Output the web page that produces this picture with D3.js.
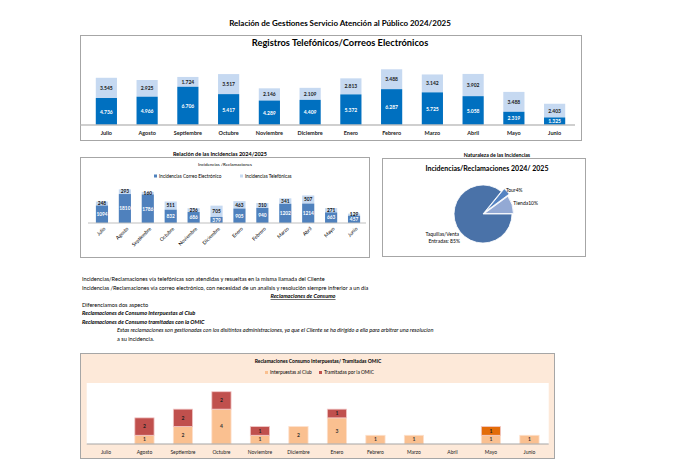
<!DOCTYPE html>
<html>
<head>
<meta charset="utf-8">
<script src="https://cdn.jsdelivr.net/npm/d3@7"></script>
<style>
body { margin: 0; background: #fff; }
text { font-family: Lato, "Liberation Sans", sans-serif; }
</style>
</head>
<body>
<div id="chart"></div>
<script>
const meses = ["Julio","Agosto","Septiembre","Octubre","Noviembre","Diciembre","Enero","Febrero","Marzo","Abril","Mayo","Junio"];

// registros telefonicos / correos (parte oscura abajo, clara arriba)
const registrosBase = [4736,4966,6706,5417,4289,4409,5372,6287,5725,5058,2319,1325];
const registrosSup  = [3545,2925,1724,3517,2146,2109,2813,3488,3142,3902,3488,2403];

// incidencias
const incCorreo = [1094,1810,1786,832,686,379,905,940,1202,1214,663,457];
const incTelef  = [248,293,160,511,236,705,463,310,341,507,271,129];

// naturaleza de las incidencias (%)
const pieNombres = ["Taquillas/Venta Entradas","Tour","Tienda"];
const piePct = [85,4,10];

// reclamaciones de consumo
const interpuestas = [0,1,2,4,1,2,3,1,1,0,1,1];
const tramitadas   = [0,2,2,2,1,0,1,0,0,0,1,0];

const notas = [
  "Incidencias/Reclamaciones vía telefónicas  son atendidas y resueltas en la misma llamada del Cliente",
  "Incidencias /Reclamaciones vía correo electrónico, con necesidad de un analisis y resolución siempre infrerior a un día",
  "Reclamaciones de Consumo",
  "Diferenciamos dos aspecto",
  "Reclamaciones de Consumo Interpuestas al Club",
  "Reclamaciones de Consumo tramitadas con la OMIC",
  "Estas reclamaciones son gestionadas con los disitintos administraciones, ya que el Cliente se ha dirigido a ella para arbitrar una resolucion",
  "a su incidencia."
];

const fmtES = d3.formatLocale({decimal: ",", thousands: ".", grouping: [3], currency: ["", "€"]}).format(",d");

const svg = d3.select("#chart").append("svg")
    .attr("width", 673)
    .attr("height", 474);

function label(g, x, y, s, size, weight, anchor) {
    return g.append("text")
        .attr("x", x).attr("y", y)
        .attr("text-anchor", anchor || "middle")
        .attr("font-size", size)
        .attr("font-weight", weight || "normal")
        .text(s);
}

function box(x, y, w, h, fill) {
    svg.append("rect")
        .attr("x", x).attr("y", y)
        .attr("width", w).attr("height", h)
        .attr("fill", fill || "#fff")
        .attr("stroke", "#a6a6a6")
        .attr("stroke-width", 1);
}

// titulo general
label(svg, 340, 26, "Relación de Gestiones Servicio Atención al Público 2024/2025", 8, "bold");

// ---------- Registros Telefonicos / Correos ----------
box(80.5, 35.5, 501, 105);
label(svg, 340, 46, "Registros Telefónicos/Correos Electrónicos", 9.3, "bold");

let x1 = d3.scaleBand().domain(meses).range([86,575]).paddingInner(0.48).paddingOuter(0.24);
let y1 = d3.scaleLinear().domain([0,10000]).range([125,68]);

let top1 = svg.append("g");
meses.forEach(function(m,i) {
    let b = registrosBase[i], s = registrosSup[i];
    top1.append("rect")
        .attr("x", x1(m)).attr("width", x1.bandwidth())
        .attr("y", y1(b+s)).attr("height", y1(b) - y1(b+s))
        .attr("fill", "#c6d9f1");
    top1.append("rect")
        .attr("x", x1(m)).attr("width", x1.bandwidth())
        .attr("y", y1(b)).attr("height", y1(0) - y1(b))
        .attr("fill", "#0070c0");
    let cx = x1(m) + x1.bandwidth()/2;
    label(top1, cx, (y1(b)+y1(0))/2 + 2, fmtES(b), 5, "bold").attr("fill", "#fff");
    label(top1, cx, (y1(b)+y1(b+s))/2 + 2, fmtES(s), 5, "bold").attr("fill", "#1a1a1a");
});

let ax1 = svg.append("g")
    .attr("transform", "translate(0,125)")
    .call(d3.axisBottom(x1).tickSize(0).tickPadding(6));
ax1.select(".domain").attr("stroke", "#bfbfbf").attr("stroke-width", 1.5).attr("d", "M80.5,0H575");
ax1.selectAll("text").attr("font-size", 5.5).attr("font-weight", "bold").attr("font-family", null).attr("fill", "#222");

// ---------- Relacion de las incidencias ----------
label(svg, 220, 156, "Relación de las Incidencias 2024/2025", 5.5, "bold");
box(80.5, 157.5, 289, 100);
label(svg, 225, 166, "Incidencias /Reclamaciones", 4.5);

let leg2 = svg.append("g");
leg2.append("rect").attr("x", 154).attr("y", 174.5).attr("width", 3).attr("height", 3).attr("fill", "#4f81bd");
label(leg2, 159, 177.7, "Incidencias Correo Electrónico", 4.7, "normal", "start");
leg2.append("rect").attr("x", 240).attr("y", 174.5).attr("width", 3).attr("height", 3).attr("fill", "#c6d9f1");
label(leg2, 245, 177.7, "Incidencias Telefónicas", 4.7, "normal", "start");

let x2 = d3.scaleBand().domain(meses).range([90.5,365.5]).paddingInner(0.47).paddingOuter(0.235);
let y2 = d3.scaleLinear().domain([0,2500]).range([223,183]);

let g2 = svg.append("g");
meses.forEach(function(m,i) {
    let c = incCorreo[i], t = incTelef[i];
    g2.append("rect")
        .attr("x", x2(m)).attr("width", x2.bandwidth())
        .attr("y", y2(c+t)).attr("height", y2(c) - y2(c+t))
        .attr("fill", "#c6d9f1");
    g2.append("rect")
        .attr("x", x2(m)).attr("width", x2.bandwidth())
        .attr("y", y2(c)).attr("height", y2(0) - y2(c))
        .attr("fill", "#4f81bd");
    let cx = x2(m) + x2.bandwidth()/2;
    label(g2, cx, (y2(c)+y2(0))/2 + 1.8, c, 4.8, "bold").attr("fill", "#fff");
    label(g2, cx, (y2(c)+y2(c+t))/2 + 1.8, t, 4.8, "bold").attr("fill", "#111");
});

let ax2 = svg.append("g")
    .attr("transform", "translate(0,223)")
    .call(d3.axisBottom(x2).tickSize(0).tickPadding(4));
ax2.select(".domain").attr("stroke", "#bfbfbf").attr("d", "M88,0H366");
ax2.selectAll("text")
    .attr("font-size", 5)
    .attr("font-family", null)
    .attr("fill", "#000")
    .style("fill", "#000")
    .attr("text-anchor", "end")
    .attr("transform", "rotate(-45)")
    .attr("dx", "-0.3em")
    .attr("dy", "0.6em");

// ---------- Naturaleza de las incidencias ----------
label(svg, 497, 157, "Naturaleza de las Incidencias", 5.2, "bold");
box(382.5, 158.5, 203, 98);
label(svg, 487, 171, "Incidencias/Reclamaciones  2024/ 2025", 7, "bold");

let pieCol = d3.scaleOrdinal().domain(pieNombres).range(["#4a72a8","#5583c2","#93a9d4"]);
let explode = {"Taquillas/Venta Entradas": 0, "Tour": 4, "Tienda": 1.5};
let radio = 29;
let pie = d3.pie().sort(null).value(d => d.v).startAngle(Math.PI/2).endAngle(Math.PI/2 + 2*Math.PI);
let arc = d3.arc().innerRadius(0).outerRadius(radio);
let gp = svg.append("g").attr("transform", "translate(483,214)");
let arcs = pie(pieNombres.map((n,i) => ({n: n, v: piePct[i]})));
arcs.forEach(function(a) {
    let mid = (a.startAngle + a.endAngle)/2;
    let e = explode[a.data.n];
    gp.append("path")
        .attr("d", arc(a))
        .attr("transform", "translate(" + (e*Math.sin(mid)) + "," + (-e*Math.cos(mid)) + ")")
        .attr("fill", pieCol(a.data.n))
        .attr("stroke", "#fff")
        .attr("stroke-width", 0.8);
    let px = (radio+4)*Math.sin(mid), py = -(radio+4)*Math.cos(mid);
    if (a.data.n == "Taquillas/Venta Entradas") {
        label(gp, px - 11, py + 8, "Taquillas/Venta", 5);
        label(gp, px - 9, py + 15, "Entradas:  " + a.data.v + "%", 5);
    } else {
        label(gp, px - 1, py + 1, a.data.n + a.data.v + "%", 5, "normal", "start");
    }
});

// ---------- notas ----------
let gn = svg.append("g").attr("font-size", 5.6);
notas.forEach(function(t,i) {
    let y = 281 + i*8.55;
    let tx = gn.append("text").attr("y", y).text(t);
    if (i == 2) {
        tx.attr("x", 303).attr("text-anchor", "middle")
          .attr("font-weight", "bold").attr("font-style", "italic")
          .attr("text-decoration", "underline");
    } else if (i == 4 || i == 5) {
        tx.attr("x", 82).attr("font-weight", "bold").attr("font-style", "italic");
    } else if (i == 6) {
        tx.attr("x", 117).attr("font-style", "italic");
    } else if (i == 7) {
        tx.attr("x", 117);
    } else {
        tx.attr("x", 82);
    }
});

// ---------- Reclamaciones de consumo ----------
box(80.5, 353.5, 474, 105, "#fde9d9");
label(svg, 318, 363, "Reclamaciones Consumo  Interpuestas/ Tramitadas OMIC", 5, "bold");

let leg3 = svg.append("g");
leg3.append("rect").attr("x", 265).attr("y", 371).attr("width", 3).attr("height", 3).attr("fill", "#fac090");
label(leg3, 270, 374.2, "Interpuestas al Club", 4.8, "normal", "start");
leg3.append("rect").attr("x", 319).attr("y", 371).attr("width", 3).attr("height", 3).attr("fill", "#c0504d");
label(leg3, 324, 374.2, "Tramitadas por la OMIC", 4.8, "normal", "start");

let x3 = d3.scaleBand().domain(meses).range([86.7,548.7]).paddingInner(0.5).paddingOuter(0.25);
let y3 = d3.scaleLinear().domain([0,7]).range([444,383]);

svg.append("rect")
    .attr("x", 86.7).attr("y", 383)
    .attr("width", 462).attr("height", 61)
    .attr("fill", "#fff");

let g3 = svg.append("g");
meses.forEach(function(m,i) {
    let a = interpuestas[i], t = tramitadas[i];
    let cx = x3(m) + x3.bandwidth()/2;
    if (a > 0) {
        g3.append("rect")
            .attr("x", x3(m)).attr("width", x3.bandwidth())
            .attr("y", y3(a)).attr("height", y3(0) - y3(a))
            .attr("fill", "#fac090").attr("stroke", "#fde0cc").attr("stroke-width", 0.8);
        label(g3, cx, (y3(a)+y3(0))/2 + 1.8, a, 5, "bold").attr("fill", "#333");
    }
    if (t > 0) {
        g3.append("rect")
            .attr("x", x3(m)).attr("width", x3.bandwidth())
            .attr("y", y3(a+t)).attr("height", y3(a) - y3(a+t))
            .attr("fill", m == "Mayo" ? "#e36c09" : "#c0504d")
            .attr("stroke", "#f2c9c8").attr("stroke-width", 0.8);
        label(g3, cx, (y3(a+t)+y3(a))/2 + 1.8, t, 5, "bold").attr("fill", "#222");
    }
});

let ax3 = svg.append("g")
    .attr("transform", "translate(0,444)")
    .call(d3.axisBottom(x3).tickSize(0).tickPadding(6));
ax3.select(".domain").attr("stroke", "#a6a6a6").attr("stroke-width", 1.2).attr("d", "M86.7,0H548.7");
ax3.selectAll("text").attr("font-size", 5).attr("font-family", null).attr("fill", "#222");
</script>
</body>
</html>
